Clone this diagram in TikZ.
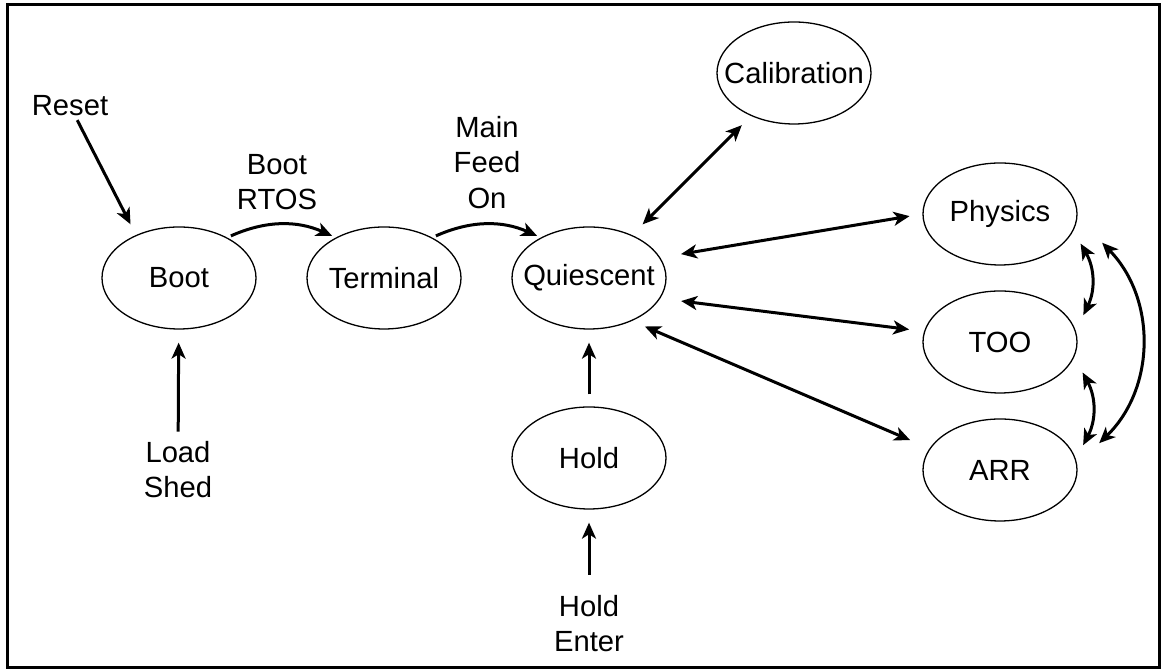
\documentclass[tikz,border=0pt]{standalone}
\usepackage{fontspec}
\setmainfont{Liberation Sans}
\usetikzlibrary{arrows.meta,shapes.geometric}

\begin{document}
\begin{tikzpicture}[x=0.5pt,y=0.5pt,
        font=\fontsize{14.6}{17.7}\selectfont,
        >={Stealth[length=8pt,width=7pt,inset=2.2pt]},
        state/.style={ellipse,draw,line width=0.65pt,minimum width=77pt,minimum height=51pt,inner xsep=-8pt,inner ysep=0pt},
        lbl/.style={inner sep=0pt,align=center},
        link/.style={->,line width=1.5pt,shorten <=6.5pt,shorten >=6.5pt},
        dlink/.style={link,<->}]
                \useasboundingbox (0,0) rectangle (1161,672);
                \draw[line width=1.5pt] (7,667) rectangle (1159,4);

                \node[state] (boot) at (179,394) {Boot};
                \node[state] (terminal) at (384,394) {Terminal};
                \node[state] (quiescent) at (589,394) {Quiescent};
                \node[state] (calibration) at (794,599) {Calibration};
                \node[state] (physics) at (1000,458) {Physics};
                \node[state] (too) at (1000,330) {TOO};
                \node[state] (arr) at (1000,202) {ARR};
                \node[state] (hold) at (589,214) {Hold};

                \node[lbl] (reset) at (70,566) {Reset};
                \node[lbl] (bootrtos) at (277,490) {Boot\\RTOS};
                \node[lbl] (mainfeed) at (487,509.5) {Main\\Feed\\On};
                \node[lbl] (loadshed) at (178,202.5) {Load\\Shed};
                \node[lbl] (holdenter) at (589,48.5) {Hold\\Enter};

                \draw[link,shorten <=2pt,shorten >=6pt] (reset) to (boot.135);
                \draw[link,bend left=24,shorten <=2pt,shorten >=2pt] (boot.40) to (terminal.140);
                \draw[link,bend left=24,shorten <=2pt,shorten >=2pt] (terminal.40) to (quiescent.140);
                \draw[link,shorten <=4.5pt] (loadshed) to (boot);
                \draw[link,shorten <=6pt] (hold) to (quiescent);
                \draw[link,shorten <=10pt] (holdenter) to (hold);

                \draw[dlink,shorten <=7.5pt] (quiescent.45) to (calibration.225);
                \draw[dlink,shorten <=10.5pt] (quiescent.16) to (physics.west);
                \draw[dlink,shorten <=10.5pt,shorten >=7.5pt] (quiescent.344) to (too.172);
                \draw[dlink,shorten <=7pt,shorten >=10.5pt] (quiescent.315) to (arr.163);

                \draw[dlink,bend left=28,shorten <=0pt,shorten >=0pt] ([xshift=8.5pt]physics.335) to ([xshift=8.5pt]too.22.5);
                \draw[dlink,bend left=28,shorten <=0pt,shorten >=0pt] ([xshift=10pt]too.334) to ([xshift=7.5pt]arr.20);
                \draw[dlink,bend left=45,shorten <=0pt,shorten >=0pt] ([xshift=18.8pt]physics.336.5) to ([xshift=16.4pt]arr.22.5);
            \end{tikzpicture}
\end{document}
